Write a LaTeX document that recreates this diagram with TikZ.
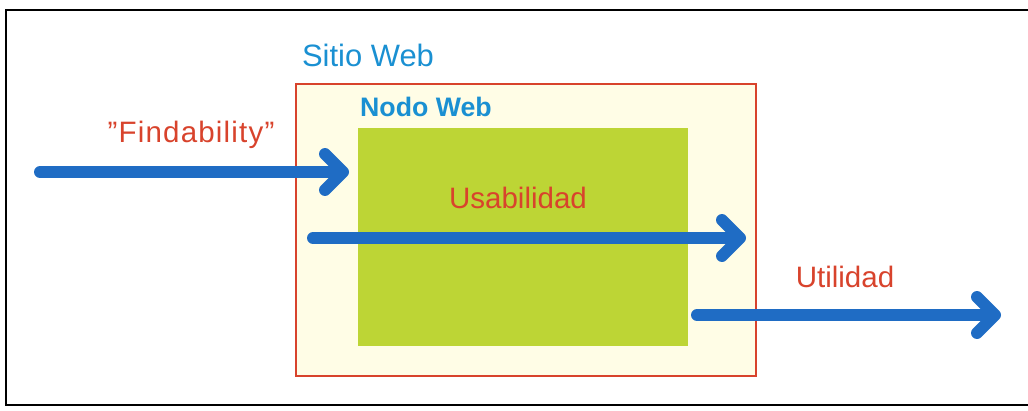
\documentclass[tikz,border=0pt]{standalone}
\usepackage{fontspec}
\setmainfont{Liberation Sans}
\usetikzlibrary{arrows.meta}

\definecolor{azulweb}{HTML}{1A90D2}
\definecolor{azulflecha}{HTML}{1F6CC4}
\definecolor{rojoweb}{HTML}{D8432C}
\definecolor{verdenodo}{HTML}{BDD535}
\definecolor{crema}{HTML}{FFFDE6}

\begin{document}
\begin{tikzpicture}[x=0.025cm, y=-0.025cm,
		flecha/.style={line width=8.5pt, azulflecha, line cap=round,
			-{Straight Barb[length=0.45cm, width=0.9cm, round]}},
		rotulo/.style={text=rojoweb, inner sep=0pt, font=\fontsize{21}{24}\selectfont}]
			\useasboundingbox (0,0) rectangle (1028,410);
			\draw[line width=2pt] (1040, 10) -- (6, 10) -- (6, 405) -- (1040, 405);

			% sitio y nodo
			\draw[rojoweb, line width=1.2pt, fill=crema] (296, 84) rectangle (756, 376);
			\fill[verdenodo] (358, 128) rectangle (688, 346);
			\node[text=azulweb, inner sep=0pt, font=\fontsize{22}{26}\selectfont] (sitio) at (368, 55) {Sitio Web};
			\node[text=azulweb, inner sep=0pt, font=\bfseries\fontsize{19}{22}\selectfont] (nodo) at (426, 107) {Nodo Web};

			% flechas
			\coordinate (f1) at (40, 172);
			\coordinate (f2) at (349, 172);
			\coordinate (u1) at (313, 238);
			\coordinate (u2) at (746, 238);
			\coordinate (t1) at (697, 315);
			\coordinate (t2) at (1001, 315);
			\draw[flecha] (f1) -- (f2);
			\draw[flecha] (u1) -- (u2);
			\draw[flecha] (t1) -- (t2);

			\node[rotulo, font=\fontsize{21}{24}\selectfont\addfontfeatures{LetterSpace=4}] (find) at (191, 135) {\symbol{"22}Findability\symbol{"22}};
			\node[rotulo] (usa) at (518, 198) {Usabilidad};
			\node[rotulo] (uti) at (845, 277) {Utilidad};
		\end{tikzpicture}
\end{document}
